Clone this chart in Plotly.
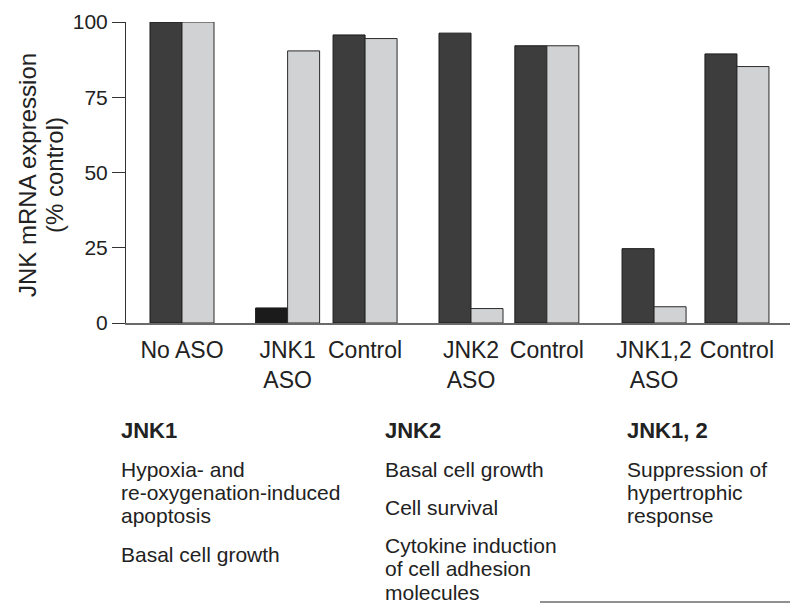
import plotly.graph_objects as go

# ---- data ----
groups = ["No ASO", "JNK1<br>ASO", "Control", "JNK2<br>ASO", "Control", "JNK1,2<br>ASO", "Control"]
group_pos = [0, 3.3, 5.72, 9.03, 11.4, 14.75, 17.34]
series_a = [100, 5, 95.7, 96.3, 92.1, 24.7, 89.4]   # dark bars
series_b = [100, 90.4, 94.5, 4.8, 92.1, 5.4, 85.2]  # light bars
y_ticks = [0, 25, 50, 75, 100]
y_title_lines = ["JNK mRNA expression", "(% control)"]

col_titles = ["JNK1", "JNK2", "JNK1, 2"]
col_items = [
    [["Hypoxia- and", "re-oxygenation-induced", "apoptosis"], ["Basal cell growth"]],
    [["Basal cell growth"], ["Cell survival"], ["Cytokine induction", "of cell adhesion", "molecules"]],
    [["Suppression of", "hypertrophic", "response"]],
]

FONT = "Liberation Sans, Arial, Helvetica, sans-serif"
TXT = "#222222"
dark_colors = ["#3d3d3d", "#1b1b1b", "#3d3d3d", "#3d3d3d", "#3d3d3d", "#3d3d3d", "#3d3d3d"]

fig = go.Figure()
fig.add_trace(go.Bar(x=group_pos, y=series_a, width=1, offset=-1,
                     marker=dict(color=dark_colors, line=dict(color="#1a1a1a", width=1)),
                     showlegend=False))
fig.add_trace(go.Bar(x=group_pos, y=series_b, width=1, offset=0,
                     marker=dict(color="#d1d2d4", line=dict(color="#2a2a2a", width=1)),
                     showlegend=False))

# the page body adds an 8px offset; the figure is sized to fill the rest of the window
OFF = 8
W, H = 798 - OFF, 604 - OFF
ml, mr, mt, mb = 126 - OFF, 6, 22 - OFF, 281
PW, PH = W - ml - mr, H - mt - mb


def px(x):  # window pixel -> paper fraction
    return (x - OFF - ml) / PW


def py(y):
    return (H - mb - (y - OFF)) / PH


fig.update_layout(
    width=W, height=H,
    margin=dict(l=ml, r=mr, t=mt, b=mb, autoexpand=False),
    plot_bgcolor="white", paper_bgcolor="white",
    barmode="overlay",
    font=dict(family=FONT, color=TXT),
    xaxis=dict(range=[-1.75, 19.06], tickvals=group_pos, ticktext=groups, automargin=False,
               showgrid=False, zeroline=False, showline=True, linecolor="#6a6a6a", linewidth=2,
               ticks="", tickfont=dict(size=23, color=TXT), ticklabelstandoff=5),
    yaxis=dict(range=[0, 100], tickvals=y_ticks, showgrid=False, zeroline=False, automargin=False,
               showline=True, linecolor="#333333", linewidth=1,
               ticks="outside", ticklen=13, tickcolor="#333333", tickwidth=1,
               tickfont=dict(size=21, color=TXT)),
)

# y-axis title (two rotated lines)
for line, cx in zip(y_title_lines, [27, 54]):
    fig.add_annotation(x=px(cx), y=py(175), xref="paper", yref="paper", text=line,
                       textangle=-90, showarrow=False, xanchor="center", yanchor="middle",
                       font=dict(size=24, color=TXT))

# descriptive text below the chart
col_x = [121, 385, 627]
title_y = 430
item_start = 469
line_step = 23.5
item_gap = 38
for cx, t, items in zip(col_x, col_titles, col_items):
    fig.add_annotation(x=px(cx), y=py(title_y), xref="paper", yref="paper",
                       text="<b>" + t + "</b>", showarrow=False, xanchor="left", yanchor="middle",
                       xshift=-2, font=dict(size=22, color=TXT))
    y = item_start
    for item in items:
        for i, line in enumerate(item):
            fig.add_annotation(x=px(cx), y=py(y + i * line_step), xref="paper", yref="paper",
                               text=line, showarrow=False, xanchor="left", yanchor="middle",
                               xshift=-2, font=dict(size=21, color=TXT))
        y += (len(item) - 1) * line_step + item_gap

fig.add_shape(type="line", xref="paper", yref="paper",
              x0=px(540), x1=px(790), y0=py(602), y1=py(602),
              line=dict(color=TXT, width=1))

fig.write_html("out.html")
